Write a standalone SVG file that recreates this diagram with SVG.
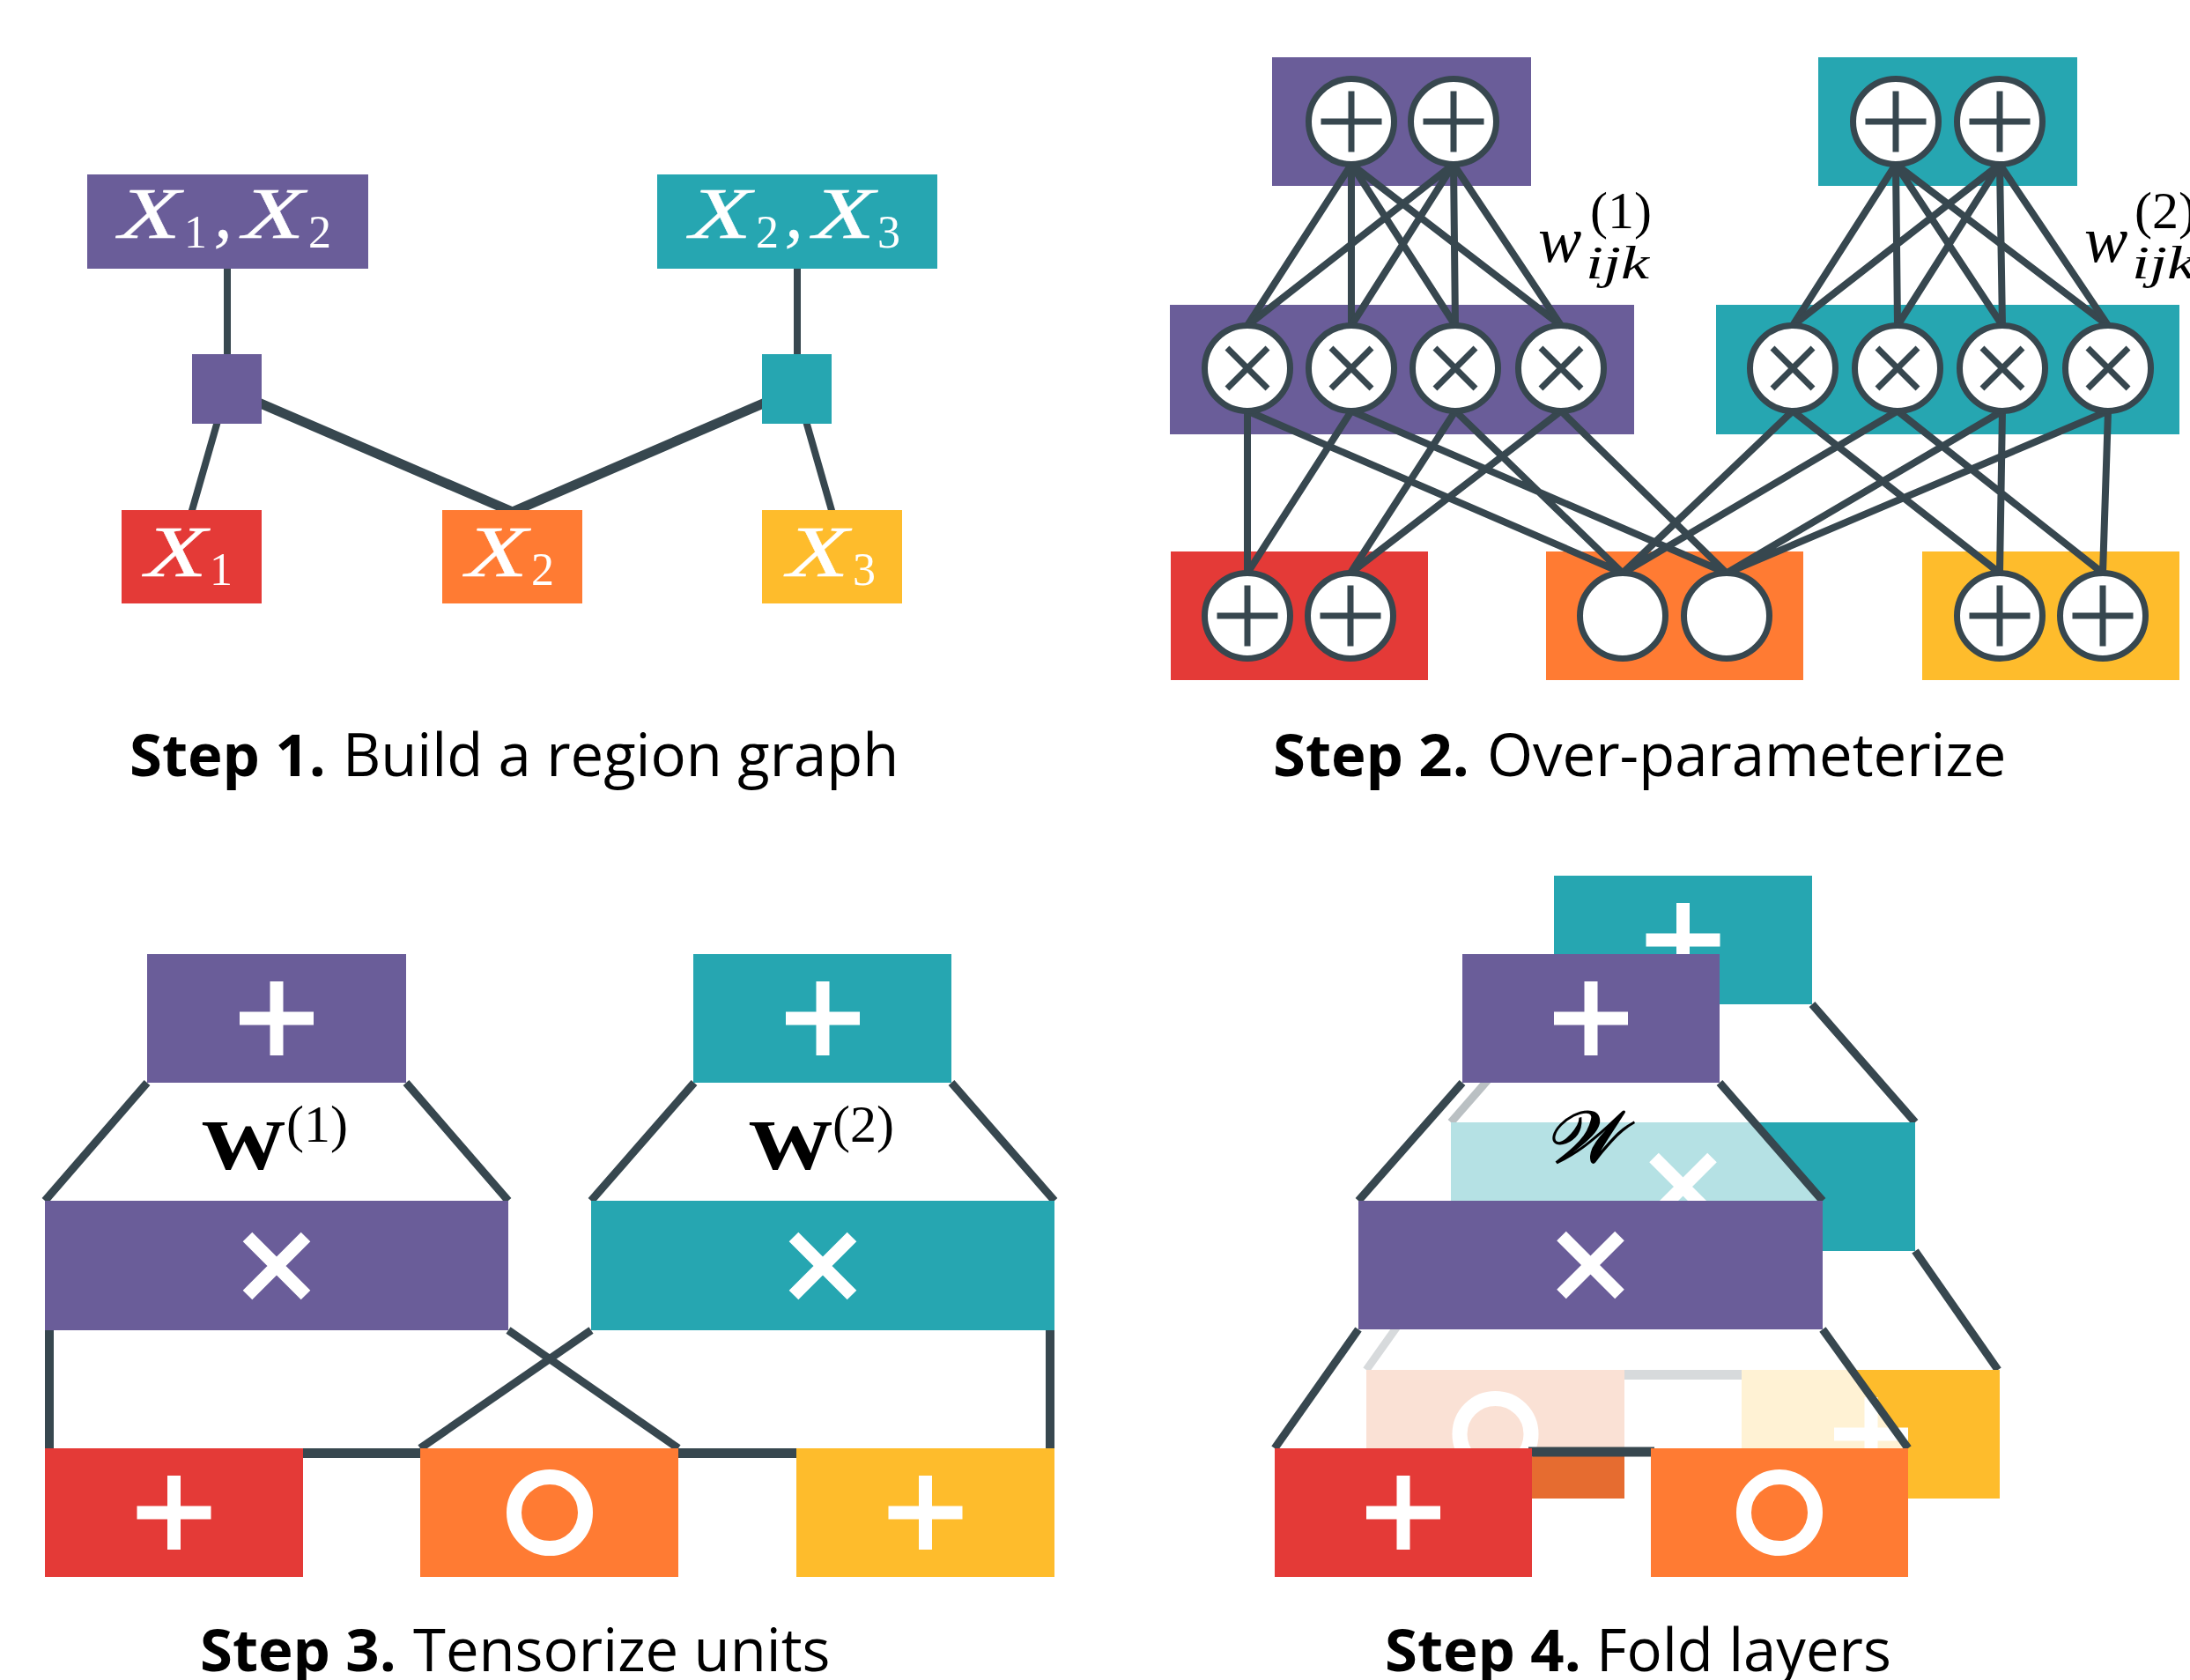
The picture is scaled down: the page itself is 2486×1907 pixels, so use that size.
<svg xmlns="http://www.w3.org/2000/svg" width="2486" height="1907" viewBox="0 0 2486 1907">
<style>
.pu{fill:#6A5D99}.te{fill:#26A6B1}.re{fill:#E43A37}.or{fill:#FF7B33}.ye{fill:#FEBC2C}.bo{fill:#E66C30}
.ln{stroke:#37474F;fill:none;stroke-width:9}
.e2{stroke:#37474F;fill:none;stroke-width:8}
.nd{fill:#fff;stroke:#37474F;stroke-width:7}
.sym{stroke:#37474F;stroke-width:7;fill:none}
.wg{stroke:#fff;stroke-width:15;fill:none}
.ring{fill:none;stroke:#fff;stroke-width:17}
.mi{font-family:"Liberation Serif",serif;font-style:italic}
.mr{font-family:"Liberation Serif",serif}
.wt{fill:#fff}
.bx{font-size:82px;stroke:#fff;stroke-width:0.4}
.sb{font-size:52px}
.cap{font-family:"Open Sans",sans-serif;font-size:67px;fill:#000}
</style>
<defs>
<g id="sumU"><circle class="nd" r="48.5"/><path class="sym" d="M-34.5 0H34.5M0 -34.5V34.5"/></g>
<g id="prodU"><circle class="nd" r="48.5"/><path class="sym" d="M-23 -23L23 23M-23 23L23 -23"/></g>
<g id="leafU"><circle class="nd" r="48.5"/></g>
<path id="wplus" class="wg" d="M-42 0H42M0 -42V42"/>
<path id="wtimes" class="wg" d="M-33 -33L33 33M-33 33L33 -33"/>
<circle id="wring" class="ring" r="40.5"/>
</defs>
<rect width="2486" height="1907" fill="#fff"/>

<!-- ================= STEP 1 ================= -->
<g id="connectors-step1" class="ln">
<line x1="258" y1="305" x2="258" y2="402" stroke-width="8"/>
<line x1="905" y1="305" x2="905" y2="402" stroke-width="8"/>
<line x1="257.5" y1="441.5" x2="217.5" y2="581" stroke-width="8"/>
<line x1="257.5" y1="441.5" x2="581.7" y2="581" stroke-width="11"/>
<line x1="904.5" y1="441.5" x2="581.7" y2="581" stroke-width="11"/>
<line x1="904.5" y1="441.5" x2="944.5" y2="581" stroke-width="8"/>
</g>
<g id="s1-x1x2">
<rect class="pu" x="99" y="198" width="319" height="107"/>
<text class="mi wt bx" x="135" y="270" textLength="70" lengthAdjust="spacingAndGlyphs">X</text>
<text class="mr wt sb" x="209" y="281">1</text>
<text class="mi wt bx" x="243" y="270">,</text>
<text class="mi wt bx" x="275.5" y="270" textLength="70" lengthAdjust="spacingAndGlyphs">X</text>
<text class="mr wt sb" x="350" y="281">2</text>
</g>
<g id="s1-x2x3">
<rect class="te" x="746" y="198" width="318" height="107"/>
<text class="mi wt bx" x="783" y="270" textLength="70" lengthAdjust="spacingAndGlyphs">X</text>
<text class="mr wt sb" x="858" y="281">2</text>
<text class="mi wt bx" x="891" y="270">,</text>
<text class="mi wt bx" x="923" y="270" textLength="70" lengthAdjust="spacingAndGlyphs">X</text>
<text class="mr wt sb" x="996" y="281">3</text>
</g>
<g id="s1-part1"><rect class="pu" x="218" y="402" width="79" height="79"/></g>
<g id="s1-part2"><rect class="te" x="865" y="402" width="79" height="79"/></g>
<g id="s1-x1">
<rect class="re" x="138" y="579" width="159" height="106"/>
<text class="mi wt bx" x="165" y="653.5" textLength="70" lengthAdjust="spacingAndGlyphs">X</text>
<text class="mr wt sb" x="238" y="664">1</text>
</g>
<g id="s1-x2">
<rect class="or" x="502" y="579" width="159" height="106"/>
<text class="mi wt bx" x="529" y="653.5" textLength="70" lengthAdjust="spacingAndGlyphs">X</text>
<text class="mr wt sb" x="603" y="664">2</text>
</g>
<g id="s1-x3">
<rect class="ye" x="865" y="579" width="159" height="106"/>
<text class="mi wt bx" x="893.5" y="653.5" textLength="70" lengthAdjust="spacingAndGlyphs">X</text>
<text class="mr wt sb" x="968" y="664">3</text>
</g>
<text class="cap" x="147" y="881"><tspan font-weight="700">Step 1.</tspan><tspan x="389">Build a region graph</tspan></text>

<!-- ================= STEP 2 ================= -->
<g id="s2-boxes">
<rect class="pu" x="1444" y="65" width="294" height="146"/>
<rect class="te" x="2064" y="65" width="294" height="146"/>
<rect class="pu" x="1328" y="346" width="527" height="147"/>
<rect class="te" x="1948" y="346" width="526" height="147"/>
<rect class="re" x="1329" y="626" width="292" height="146"/>
<rect class="or" x="1755" y="626" width="292" height="146"/>
<rect class="ye" x="2182" y="626" width="292" height="146"/>
</g>
<g id="connectors-step2" class="e2">
<path d="M1534 186.5L1416 369.5M1534 186.5L1534 369.5M1534 186.5L1652 369.5M1534 186.5L1772 369.5"/>
<path d="M1650 186.5L1416 369.5M1650 186.5L1534 369.5M1650 186.5L1652 369.5M1650 186.5L1772 369.5"/>
<path d="M2152 186.5L2035 369.5M2152 186.5L2154 369.5M2152 186.5L2273 369.5M2152 186.5L2393 369.5"/>
<path d="M2270 186.5L2035 369.5M2270 186.5L2154 369.5M2270 186.5L2273 369.5M2270 186.5L2393 369.5"/>
<path d="M1416 466.5L1416 650.5M1416 466.5L1842 650.5M1534 466.5L1416 650.5M1534 466.5L1960 650.5M1652 466.5L1533 650.5M1652 466.5L1842 650.5M1772 466.5L1533 650.5M1772 466.5L1960 650.5"/>
<path d="M2035 466.5L1842 650.5M2035 466.5L2270 650.5M2154 466.5L1842 650.5M2154 466.5L2387 650.5M2273 466.5L1960 650.5M2273 466.5L2270 650.5M2393 466.5L1960 650.5M2393 466.5L2387 650.5"/>
</g>
<g id="s2-sum1"><use href="#sumU" x="1534" y="138"/><use href="#sumU" x="1650" y="138"/></g>
<g id="s2-sum2"><use href="#sumU" x="2152" y="138"/><use href="#sumU" x="2270" y="138"/></g>
<g id="s2-prod1"><use href="#prodU" x="1416" y="418"/><use href="#prodU" x="1534" y="418"/><use href="#prodU" x="1652" y="418"/><use href="#prodU" x="1772" y="418"/></g>
<g id="s2-prod2"><use href="#prodU" x="2035" y="418"/><use href="#prodU" x="2154" y="418"/><use href="#prodU" x="2273" y="418"/><use href="#prodU" x="2393" y="418"/></g>
<g id="s2-in1"><use href="#sumU" x="1416" y="699"/><use href="#sumU" x="1533" y="699"/></g>
<g id="s2-in2"><use href="#leafU" x="1842" y="699"/><use href="#leafU" x="1960" y="699"/></g>
<g id="s2-in3"><use href="#sumU" x="2270" y="699"/><use href="#sumU" x="2387" y="699"/></g>
<g id="s2-w1"><text class="mi" x="1746" y="297" font-size="74">w</text><text class="mr" x="1805" y="259" font-size="60">(1)</text><text class="mi" x="1800" y="316" font-size="52" textLength="72" lengthAdjust="spacingAndGlyphs">ijk</text></g>
<g id="s2-w2"><text class="mi" x="2366" y="297" font-size="74">w</text><text class="mr" x="2423" y="259" font-size="60">(2)</text><text class="mi" x="2420" y="316" font-size="52" textLength="72" lengthAdjust="spacingAndGlyphs">ijk</text></g>
<text class="cap" x="1445" y="881"><tspan font-weight="700">Step 2.</tspan><tspan x="1688">Over-parameterize</tspan></text>

<!-- ================= STEP 3 ================= -->
<g id="connectors-step3" class="ln">
<line x1="167" y1="1229" x2="51" y2="1363"/>
<line x1="461" y1="1229" x2="577" y2="1363"/>
<line x1="788" y1="1229" x2="671" y2="1363"/>
<line x1="1080" y1="1229" x2="1197" y2="1363"/>
<line x1="56" y1="1505" x2="56" y2="1650" stroke-width="10"/>
<line x1="1192" y1="1505" x2="1192" y2="1650" stroke-width="10"/>
<line x1="577" y1="1510" x2="770" y2="1644"/>
<line x1="671" y1="1510" x2="477" y2="1644"/>
<line x1="340" y1="1649.5" x2="480" y2="1649.5" stroke-width="11"/>
<line x1="765" y1="1649.5" x2="908" y2="1649.5" stroke-width="11"/>
</g>
<g id="s3-sum1"><rect class="pu" x="167" y="1083" width="294" height="146"/><use href="#wplus" x="314" y="1156"/></g>
<g id="s3-sum2"><rect class="te" x="787" y="1083" width="293" height="146"/><use href="#wplus" x="934" y="1156"/></g>
<g id="s3-prod1"><rect class="pu" x="51" y="1363" width="526" height="147"/><use href="#wtimes" x="314" y="1437"/></g>
<g id="s3-prod2"><rect class="te" x="671" y="1363" width="526" height="147"/><use href="#wtimes" x="934" y="1437"/></g>
<g id="s3-in1"><rect class="re" x="51" y="1644" width="293" height="146"/><use href="#wplus" x="197.5" y="1717"/></g>
<g id="s3-in2"><rect class="or" x="477" y="1644" width="293" height="146"/><use href="#wring" x="624" y="1717"/></g>
<g id="s3-in3"><rect class="ye" x="904" y="1644" width="293" height="146"/><use href="#wplus" x="1050.5" y="1717"/></g>
<g id="s3-w1"><text class="mr" x="228.5" y="1327" font-size="80" font-weight="700" textLength="96" lengthAdjust="spacingAndGlyphs">W</text><text class="mr" x="325" y="1296" font-size="60">(1)</text></g>
<g id="s3-w2"><text class="mr" x="849.5" y="1327" font-size="80" font-weight="700" textLength="96" lengthAdjust="spacingAndGlyphs">W</text><text class="mr" x="945" y="1296" font-size="60">(2)</text></g>
<text class="cap" x="227" y="1897"><tspan font-weight="700">Step 3.</tspan><tspan x="469">Tensorize units</tspan></text>

<!-- ================= STEP 4 ================= -->
<g id="connectors-step4-back" class="ln">
<line x1="1764" y1="1140" x2="1647" y2="1274"/>
<line x1="2057" y1="1140" x2="2174" y2="1274"/>
<line x1="1647" y1="1420" x2="1551" y2="1555"/>
<line x1="2174" y1="1420" x2="2268" y2="1555"/>
<line x1="1840" y1="1560.5" x2="1980" y2="1560.5" stroke-width="11"/>
</g>
<g id="s4-back-sum"><rect class="te" x="1764" y="994" width="293" height="146"/><use href="#wplus" x="1910.5" y="1067"/></g>
<g id="s4-back-prod"><rect class="te" x="1647" y="1274" width="527" height="146"/><use href="#wtimes" x="1910.5" y="1347"/></g>
<g id="s4-back-in1"><rect class="bo" x="1551" y="1555" width="293" height="146"/><use href="#wring" x="1697.5" y="1628"/></g>
<g id="s4-back-in2"><rect class="ye" x="1977" y="1555" width="293" height="146"/><use href="#wplus" x="2124" y="1628"/></g>
<g id="s4-fade">
<polygon points="1660,1229 1952,1229 2069,1363 1542,1363" fill="#fff" fill-opacity="0.66"/>
<polygon points="1542,1509 2069,1509 2166,1644 1447,1644" fill="#fff" fill-opacity="0.8"/>
</g>
<g id="connectors-step4-front" class="ln">
<line x1="1660" y1="1229" x2="1542" y2="1363"/>
<line x1="1952" y1="1229" x2="2069" y2="1363"/>
<line x1="1542" y1="1509" x2="1447" y2="1644"/>
<line x1="2069" y1="1509" x2="2166" y2="1644"/>
<line x1="1735" y1="1648" x2="1878" y2="1648" stroke-width="11"/>
</g>
<g id="s4-sum"><rect class="pu" x="1660" y="1083" width="292" height="146"/><use href="#wplus" x="1806" y="1156"/></g>
<g id="s4-prod"><rect class="pu" x="1542" y="1363" width="527" height="146"/><use href="#wtimes" x="1805.5" y="1436"/></g>
<g id="s4-in1"><rect class="re" x="1447" y="1644" width="292" height="146"/><use href="#wplus" x="1593" y="1717"/></g>
<g id="s4-in2"><rect class="or" x="1874" y="1644" width="292" height="146"/><use href="#wring" x="2020" y="1717"/></g>
<g id="s4-w"><text x="1752" y="1319" font-size="82" font-family="DejaVu Serif,Liberation Serif,serif" font-style="italic" stroke="#000" stroke-width="1.8">𝒲</text></g>
<text class="cap" x="1572" y="1897"><tspan font-weight="700">Step 4.</tspan><tspan x="1812">Fold layers</tspan></text>
</svg>
